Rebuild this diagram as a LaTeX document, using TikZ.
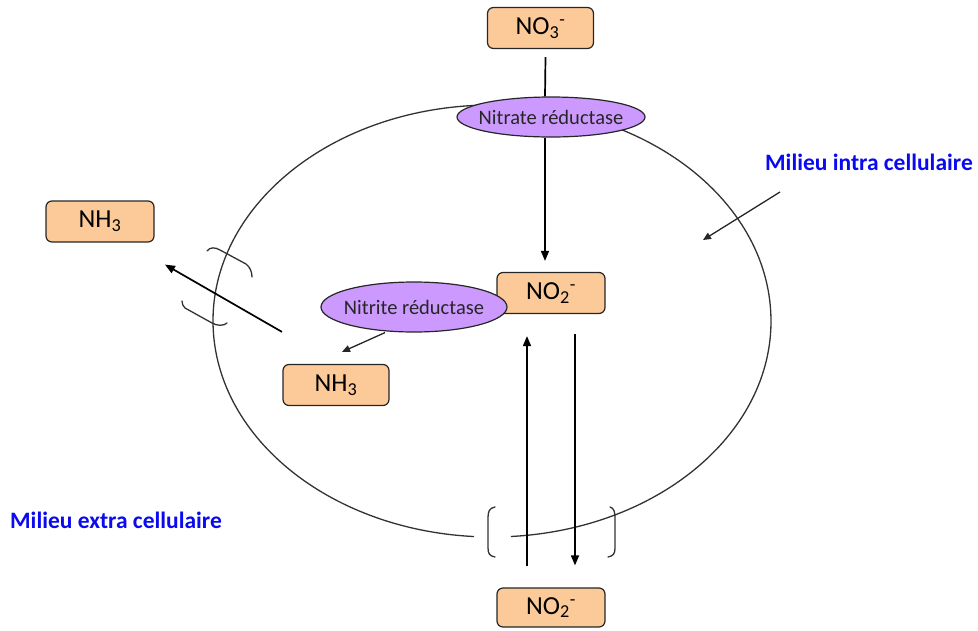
\documentclass[tikz,border=0pt]{standalone}
\usepackage{fontspec}
\setmainfont{Carlito}
\usetikzlibrary{shapes.geometric,arrows.meta}
\definecolor{boxfill}{RGB}{252,202,152}
\definecolor{enzfill}{RGB}{204,153,255}
\definecolor{milieublue}{RGB}{10,10,240}
\definecolor{membrane}{RGB}{50,50,50}
\tikzset{
  chem/.style={draw=black!85, fill=boxfill, rounded corners=6pt, line width=1.2pt,
    minimum width=106pt, minimum height=41pt, inner sep=0pt, font=\fontsize{26}{28}\selectfont},
  enzyme/.style={ellipse, draw=black!85, fill=enzfill, line width=1.2pt, inner sep=0pt},
  enzlabel/.style={inner sep=0pt, text=black!85, font=\fontsize{20.5}{22}\selectfont},
  milieu/.style={text=milieublue, font=\bfseries\fontsize{23.5}{25}\selectfont, inner sep=0pt, anchor=west},
  main/.style={line width=1.7pt, black},
  tip/.style={-{Triangle[length=10pt,width=8pt]}},
  thin arrow/.style={line width=1.3pt, black!85, -{Triangle[length=8pt,width=7pt]}},
  membr/.style={line width=1.3pt, membrane},
  chan/.style={line width=1.3pt, membrane, line cap=round}
}
\begin{document}
\begin{tikzpicture}[x=1pt,y=-1pt]
\useasboundingbox (0,0) rectangle (978,630);
% membrane (cell ellipse) with a gap at the bottom channel
\draw[membr] (492,321) ++(273.9:279pt and 216pt) arc[start angle=273.9, end angle=626.3, x radius=279pt, y radius=216pt];
% nodes
\node[chem] (no3) at (540.5,28) {NO\textsubscript{3}\textsuperscript{-}};
\node[enzyme, minimum width=188pt, minimum height=40pt, label={[enzlabel]center:Nitrate réductase}] (nar) at (551,117) {};
\node[chem, minimum width=108pt] (no2in) at (551,293) {NO\textsubscript{2}\textsuperscript{-}};
\node[enzyme, minimum width=186pt, minimum height=50pt, label={[enzlabel]center:Nitrite réductase}] (nir) at (414,307) {};
\node[chem] (nh3in) at (336,385) {NH\textsubscript{3}};
\node[chem, minimum width=108pt] (nh3out) at (100,221.5) {NH\textsubscript{3}};
\node[chem, minimum width=108pt, minimum height=39pt] (no2out) at (551,607.5) {NO\textsubscript{2}\textsuperscript{-}};
\node[milieu] (intra) at (765,162) {Milieu intra cellulaire};
\node[milieu] (extra) at (10,520) {Milieu extra cellulaire};
\coordinate (intrap) at (780,192);
\coordinate (intrat) at (703,240);
% connectors
\draw[main] ([xshift=5pt,yshift=-8pt]no3.south) -- ([xshift=-6pt]nar.north);
\draw[main,tip] ([xshift=-6pt]nar.south) -- ([xshift=-6pt,yshift=11pt]no2in.north);
\draw[thin arrow] ([xshift=-29pt]nir.south) -- ([xshift=6pt,yshift=12pt]nh3in.north);
\draw[main,tip] ([xshift=-54pt,yshift=32pt]nh3in.north) -- ([xshift=65pt,yshift=-22pt]nh3out.south);
\draw[main,tip] ([xshift=-24pt,yshift=21pt]no2out.north) -- ([xshift=-24pt,yshift=-22pt]no2in.south);
\draw[main,tip] ([xshift=24pt,yshift=-20pt]no2in.south) -- ([xshift=24pt,yshift=22pt]no2out.north);
\draw[thin arrow] (intrap) -- (intrat);
% channel brackets (NH3)
\draw[chan] (207,251) .. controls (210,247) and (215,247) .. (220,250) -- (246,264) .. controls (250,267) and (252,272) .. (252,277);
\draw[chan] (182,301) .. controls (182,304) and (183,306) .. (185,308) -- (212,323) .. controls (217,326) and (224,326) .. (227,323);
% channel brackets (NO2)
\draw[chan] (495,507) .. controls (489,508) and (488,512) .. (488,518) -- (488,548) .. controls (488,554) and (490,556) .. (495,557);
\draw[chan] (610,507) .. controls (614,508) and (615,512) .. (615,518) -- (615,548) .. controls (615,554) and (613,556) .. (608,557);
\end{tikzpicture}
\end{document}
